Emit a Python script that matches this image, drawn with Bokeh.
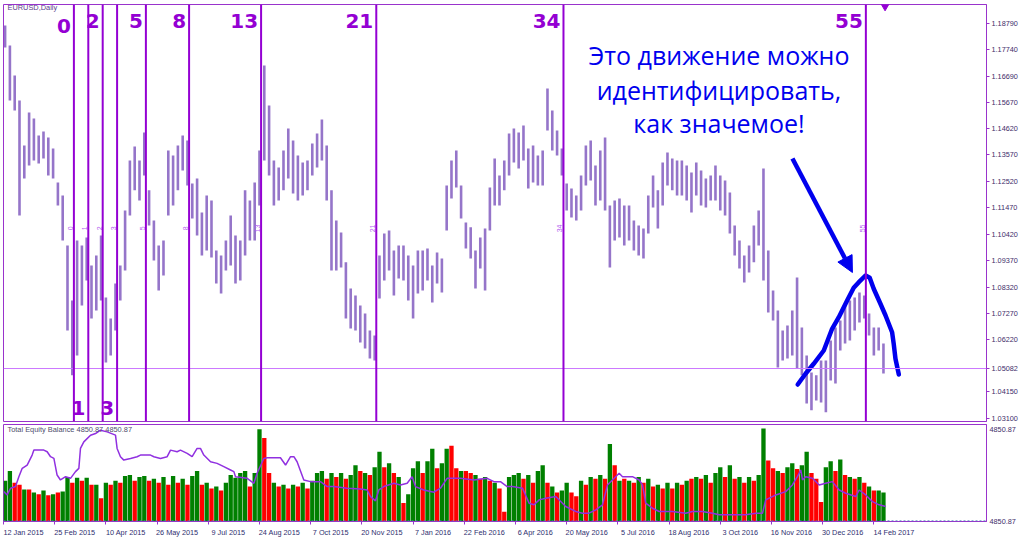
import math
from bokeh.plotting import figure
from bokeh.models import (Range1d, FixedTicker, Span, Label, ColumnDataSource, Arrow,
                          NormalHead, NumeralTickFormatter)
from bokeh.layouts import column
from bokeh.embed import file_html
from bokeh.resources import INLINE
from bokeh.core.properties import value

# ---------------- data ----------------
symbol_title = "EURUSD,Daily"
days_per_bar = 3  # each price bar below aggregates 3 trading days

price_high = [
    1.1871, 1.1792, 1.1672, 1.1573, 1.1394, 1.1525, 1.1502, 1.1434, 1.1450, 1.1426,
    1.1382, 1.1247, 1.1196, 1.0997, 1.0778, 1.1017, 1.0997, 1.1029, 1.0918, 1.0957,
    1.1037, 1.0790, 1.0707, 1.0846, 1.0918, 1.1136, 1.1335, 1.1390, 1.1335, 1.1446,
    1.1216, 1.1096, 1.0997, 1.1017, 1.1374, 1.1355, 1.1394, 1.1434, 1.1414, 1.1243,
    1.1263, 1.1128, 1.1196, 1.1176, 1.0977, 1.0957, 1.1017, 1.1116, 1.1037, 1.1017,
    1.1216, 1.1176, 1.1247, 1.1374, 1.1712, 1.1553, 1.1335, 1.1307, 1.1374, 1.1462,
    1.1414, 1.1355, 1.1327, 1.1335, 1.1402, 1.1442, 1.1498, 1.1394, 1.1216, 1.1096,
    1.1049, 1.0930, 1.0826, 1.0798, 1.0759, 1.0727, 1.0659, 1.0639, 1.0957, 1.1045,
    1.1057, 1.0977, 1.0997, 1.0997, 1.0957, 1.0918, 1.0977, 1.0977, 1.0985, 1.0918,
    1.0969, 1.0945, 1.1235, 1.1335, 1.1374, 1.1235, 1.1088, 1.1069, 1.0977, 1.1029,
    1.1065, 1.1227, 1.1343, 1.1275, 1.1335, 1.1442, 1.1462, 1.1446, 1.1474, 1.1382,
    1.1394, 1.1355, 1.1374, 1.1621, 1.1533, 1.1454, 1.1382, 1.1243, 1.1223, 1.1196,
    1.1275, 1.1394, 1.1414, 1.1315, 1.1374, 1.1426, 1.1156, 1.1176, 1.1184, 1.1156,
    1.1156, 1.1096, 1.1076, 1.1065, 1.1196, 1.1275, 1.1216, 1.1327, 1.1366, 1.1343,
    1.1335, 1.1335, 1.1315, 1.1287, 1.1327, 1.1295, 1.1263, 1.1275, 1.1315, 1.1275,
    1.1255, 1.1208, 1.1076, 1.1017, 1.0957, 1.0997, 1.1076, 1.1136, 1.1303, 1.0977,
    1.0818, 1.0739, 1.0659, 1.0679, 1.0739, 1.0870, 1.0671, 1.0560, 1.0492, 1.0481,
    1.0540, 1.0540, 1.0620, 1.0671, 1.0699, 1.0759, 1.0778, 1.0790, 1.0810, 1.0798,
    1.0727, 1.0671, 1.0671, 1.0608,
]
price_low = [
    1.1784, 1.1573, 1.1533, 1.1116, 1.1263, 1.1315, 1.1335, 1.1323, 1.1343, 1.1275,
    1.1263, 1.1156, 1.1017, 1.0659, 1.0481, 1.0560, 1.0759, 1.0858, 1.0707, 1.0739,
    1.0778, 1.0532, 1.0560, 1.0659, 1.0778, 1.0898, 1.1116, 1.1216, 1.1176, 1.1275,
    1.1076, 1.0937, 1.0818, 1.0878, 1.1116, 1.1156, 1.1216, 1.1295, 1.1235, 1.1104,
    1.1037, 1.0957, 1.0977, 1.0949, 1.0846, 1.0806, 1.0898, 1.0918, 1.0846, 1.0858,
    1.0957, 1.1017, 1.1017, 1.1156, 1.1335, 1.1275, 1.1156, 1.1176, 1.1216, 1.1263,
    1.1204, 1.1176, 1.1196, 1.1216, 1.1275, 1.1307, 1.1335, 1.1176, 1.0898, 1.0898,
    1.0910, 1.0707, 1.0667, 1.0659, 1.0612, 1.0588, 1.0548, 1.0540, 1.0786, 1.0858,
    1.0898, 1.0798, 1.0866, 1.0858, 1.0778, 1.0707, 1.0806, 1.0818, 1.0858, 1.0771,
    1.0846, 1.0810, 1.1057, 1.1184, 1.1227, 1.1104, 1.0985, 1.0945, 1.0826, 1.0906,
    1.0818, 1.1057, 1.1156, 1.1156, 1.1216, 1.1275, 1.1327, 1.1303, 1.1335, 1.1223,
    1.1247, 1.1235, 1.1235, 1.1454, 1.1374, 1.1355, 1.1275, 1.1136, 1.1108, 1.1096,
    1.1136, 1.1235, 1.1255, 1.1156, 1.1176, 1.1136, 1.0910, 1.1017, 1.1029, 1.0997,
    1.1017, 1.0977, 1.0957, 1.0945, 1.1045, 1.1148, 1.1065, 1.1156, 1.1235, 1.1216,
    1.1196, 1.1196, 1.1176, 1.1128, 1.1196, 1.1156, 1.1148, 1.1176, 1.1176, 1.1136,
    1.1116, 1.1045, 1.0957, 1.0906, 1.0850, 1.0890, 1.0930, 1.0997, 1.0858, 1.0731,
    1.0699, 1.0512, 1.0540, 1.0548, 1.0560, 1.0508, 1.0481, 1.0369, 1.0342, 1.0381,
    1.0373, 1.0334, 1.0461, 1.0449, 1.0580, 1.0608, 1.0620, 1.0659, 1.0691, 1.0707,
    1.0639, 1.0560, 1.0580, 1.0488,
]

hist_vals = [
    42, 52, 40, 38, 33, 33, 30, 28, 32, 27,
    28, 30, 31, 46, 40, 45, 42, 45, 38, 38,
    24, 40, 38, 42, 40, 47, 48, 42, 46, 47,
    42, 44, 40, 46, 38, 47, 40, 44, 38, 47,
    52, 38, 40, 34, 36, 32, 40, 48, 45, 50,
    52, 36, 50, 95, 86, 50, 40, 36, 38, 34,
    38, 36, 40, 34, 42, 50, 52, 44, 50, 46,
    50, 44, 48, 58, 52, 50, 48, 56, 72, 56,
    60, 50, 46, 19, 28, 55, 62, 50, 62, 75,
    55, 60, 75, 78, 55, 52, 52, 50, 48, 44,
    46, 42, 40, 34, 10, 46, 48, 50, 44, 48,
    40, 52, 58, 40, 36, 30, 32, 40, 30, 26,
    42, 38, 46, 44, 48, 44, 80, 58, 42, 44,
    42, 40, 46, 40, 44, 36, 38, 34, 40, 34,
    40, 38, 42, 44, 46, 44, 48, 40, 50, 56,
    46, 58, 44, 46, 40, 46, 42, 48, 96, 63,
    55, 52, 50, 56, 60, 54, 58, 72, 50, 44,
    20, 56, 62, 52, 64, 48, 46, 44, 46, 40,
    36, 32, 32, 30,
]
hist_up = [
    1, 1, 0, 0, 1, 0, 1, 0, 1, 0,
    1, 0, 1, 1, 0, 1, 0, 1, 0, 1,
    0, 1, 0, 1, 0, 1, 1, 0, 1, 1,
    0, 1, 0, 1, 0, 1, 0, 1, 0, 1,
    1, 0, 1, 0, 1, 0, 1, 1, 1, 1,
    1, 0, 1, 1, 0, 0, 1, 0, 1, 0,
    1, 0, 1, 0, 1, 1, 1, 0, 1, 0,
    1, 0, 1, 1, 0, 1, 0, 1, 1, 0,
    1, 0, 1, 0, 1, 1, 1, 0, 1, 1,
    0, 1, 1, 0, 0, 1, 0, 0, 1, 0,
    1, 0, 1, 0, 0, 1, 1, 1, 0, 1,
    0, 1, 1, 0, 1, 0, 1, 1, 0, 0,
    1, 0, 1, 0, 1, 0, 1, 0, 1, 0,
    1, 0, 1, 0, 1, 0, 1, 0, 1, 0,
    1, 0, 1, 0, 1, 0, 1, 0, 1, 1,
    0, 1, 0, 1, 0, 1, 0, 1, 1, 0,
    0, 1, 0, 1, 1, 0, 1, 1, 0, 0,
    0, 1, 1, 0, 1, 0, 1, 0, 1, 0,
    1, 0, 1, 1,
]

eq_bar = [
    0.2, 2.3, 4.4, 7.5, 9.6, 11.7, 14.8, 17.9, 19.0, 25.2,
    27.3, 29.4, 31.5, 33.5, 35.6, 38.8, 41.9, 45.0, 47.1, 48.1,
    50.2, 54.4, 57.5, 60.6, 64.8, 70.0, 71.0, 73.1, 75.2, 79.4,
    83.5, 85.6, 91.9, 94.0, 98.1, 102.3, 104.4, 108.5, 110.6, 114.8,
    117.9, 121.0, 123.1, 125.2, 129.4, 133.5, 137.7, 141.9, 144.0, 145.0,
    152.3, 156.5, 158.5, 162.7, 164.8, 173.1, 176.3, 179.4, 181.5, 183.5,
    187.7, 191.9, 198.1, 202.3, 206.5, 214.8, 223.1, 227.3, 229.4, 232.5,
    234.6, 237.7, 244.0, 248.1, 252.3, 255.4, 257.5, 262.7, 269.0, 273.1,
    277.3, 285.6, 294.0, 302.3, 306.5, 310.6, 314.8, 318.1, 324.4, 328.5,
    331.6, 334.8, 338.9, 345.2, 351.4, 357.7, 361.9, 366.0, 370.2, 374.4,
    377.5, 380.6, 384.8, 386.9, 393.1, 397.3, 399.4, 401.4, 405.6, 409.8,
    418.1, 426.4, 430.6, 436.9, 443.1, 447.3, 463.9, 470.2, 474.4, 476.4,
    482.7, 488.9, 493.1, 496.2, 498.3, 499.4, 501.4, 505.6, 509.8, 513.9,
    518.1, 522.3, 526.4, 532.7, 534.8, 538.9, 543.1, 547.3, 551.4,
]
eq_val = [
    30.8, 27.4, 34.3, 36.0, 46.2, 54.8, 58.2, 68.5, 73.6, 73.6,
    71.9, 66.8, 65.0, 47.9, 42.8, 46.2, 44.5, 51.4, 54.8, 75.3,
    82.1, 89.0, 90.7, 94.1, 92.4, 89.0, 75.3, 66.8, 63.3, 65.0,
    66.8, 68.5, 68.5, 66.8, 65.0, 66.8, 73.6, 71.9, 73.6, 70.2,
    66.8, 75.3, 75.3, 68.5, 61.6, 59.9, 56.5, 53.1, 51.4, 46.2,
    44.5, 39.4, 49.7, 65.0, 65.7, 65.7, 58.2, 66.8, 66.8, 61.6,
    42.8, 41.1, 41.1, 36.0, 36.0, 34.3, 33.6, 32.5, 25.7, 21.3,
    32.5, 36.0, 39.4, 37.7, 39.4, 46.2, 36.0, 32.5, 30.2, 34.3,
    44.5, 44.5, 42.8, 44.5, 41.1, 41.1, 36.0, 36.0, 34.3, 18.9,
    17.2, 22.3, 24.0, 25.7, 15.5, 10.3, 8.6, 8.6, 12.0, 17.2,
    37.7, 42.8, 49.7, 46.2, 46.2, 42.8, 37.7, 18.9, 13.7, 10.3,
    10.3, 8.6, 10.3, 10.3, 8.6, 6.9, 6.9, 8.6, 8.6, 22.3,
    27.4, 30.8, 37.7, 46.2, 53.1, 42.8, 46.2, 44.5, 37.7, 39.4,
    41.1, 32.5, 29.1, 25.7, 32.5, 27.4, 20.5, 17.2, 15.5,
]

date_ticks = [0, 32, 64, 96, 128, 160, 192, 224, 256, 288, 320, 352, 384, 416, 448, 480, 512, 544]
date_labels = ["12 Jan 2015", "25 Feb 2015", "10 Apr 2015", "26 May 2015", "9 Jul 2015",
               "24 Aug 2015", "7 Oct 2015", "20 Nov 2015", "7 Jan 2016", "22 Feb 2016",
               "6 Apr 2016", "20 May 2016", "5 Jul 2016", "18 Aug 2016", "3 Oct 2016",
               "16 Nov 2016", "30 Dec 2016", "14 Feb 2017"]
price_ticks = [1.18790, 1.17740, 1.16690, 1.15670, 1.14620, 1.13570, 1.12520, 1.11470,
               1.10420, 1.09370, 1.08320, 1.07270, 1.06220, 1.04150, 1.03100]
last_price = 1.05082

fib_levels = [0, 1, 2, 3, 5, 8, 13, 21, 34, 55]
fib_start_bar = 44
fib_unit_bars = 9
fib_label_row = ["top0", "bottom", "top", "bottom", "top", "top", "top", "top", "top", "top"]

note_lines = ["Это движение можно", "идентифицировать,", "как значемое!"]
draw_bar = [496.4, 501.3, 506.4, 512.7, 517.9, 522.1, 527.3, 531.4, 534.6, 538.8,
            541.4, 543.9, 548.1, 551.3, 555.4, 556.4, 557.5, 559.6]
draw_price = [1.04447, 1.04873, 1.05270, 1.05798, 1.06660, 1.07121, 1.07785, 1.08289,
              1.08512, 1.08778, 1.08687, 1.08250, 1.07654, 1.07189, 1.06525, 1.06064,
              1.05468, 1.04845]
arrow_start = (493.1, 1.13427)
arrow_end = (530.6, 1.08897)

equity_title = "Total Equity Balance 4850.87 4850.87"
equity_level_text = "4850.87"
equity_scale_ticks = [95, 0]

# ---------------- styling ----------------
VIOLET = "#9400D3"
FRAME = "#9933cc"
BAR = "#9575c9"
BLUE = "#0000ee"
GREEN = "#008000"
RED = "#ff0000"
AX_FONT = "Liberation Sans"

bar_x = [days_per_bar * k + 1 for k in range(len(price_high))]
X_END = 614.4
xr = Range1d(0, X_END)
Y0, Y1 = 1.02977, 1.19545

main = figure(width=1024, height=422, x_range=xr, y_range=Range1d(Y0, Y1),
              output_backend="svg", toolbar_location=None, x_axis_location=None,
              y_axis_location="right", min_border_left=3, min_border_right=38,
              min_border_top=4, min_border_bottom=1,
              background_fill_color="white", border_fill_color="white",
              outline_line_color=FRAME, outline_line_width=1)
main.grid.visible = False

ya = main.yaxis[0]
ya.ticker = FixedTicker(ticks=sorted(price_ticks + [last_price], reverse=True))
ya.formatter = NumeralTickFormatter(format="0.00000")
ya.axis_line_color = FRAME
ya.major_tick_line_color = FRAME
ya.major_tick_out = 3
ya.major_tick_in = 0
ya.minor_tick_line_color = None
ya.major_label_standoff = 2
ya.major_label_text_font = AX_FONT
ya.major_label_text_font_size = "7.3px"
ya.major_label_text_color = "#3f2d6a"

# price bars
main.segment(x0=bar_x, y0=price_low, x1=bar_x, y1=price_high, line_color=BAR, line_width=2.6)

# last price line
main.add_layout(Span(location=last_price, dimension="width", line_color="#cc77ff", line_width=1))

# fibonacci time zones
fib_x = [fib_start_bar + fib_unit_bars * f for f in fib_levels]
for fx in fib_x:
    main.add_layout(Span(location=fx, dimension="height", line_color=VIOLET, line_width=2))

row_y = {"top": 1.1889, "top0": 1.1869, "bottom": 1.0351}
fib_src = ColumnDataSource(dict(x=fib_x, y=[row_y[r] for r in fib_label_row],
                                t=[str(f) for f in fib_levels]))
main.text(x="x", y="y", text="t", source=fib_src, text_align="right", x_offset=-3,
          text_baseline="alphabetic", text_font=value("DejaVu Sans"), text_font_style="bold",
          text_font_size="20px", text_color=VIOLET)
small_src = ColumnDataSource(dict(x=fib_x, y=[1.1065] * len(fib_x), t=[str(f) for f in fib_levels]))
main.text(x="x", y="y", text="t", source=small_src, angle=math.pi / 2, text_align="center",
          text_baseline="bottom", x_offset=-1, text_font=value(AX_FONT),
          text_font_size="7px", text_color="#b45cf0")

# title
main.add_layout(Label(x=2.5, y=1.19228, text=symbol_title, text_font=AX_FONT,
                      text_font_size="7.4px", text_color="#5a3d8c"))

# blue note
for line, yb in zip(note_lines, [1.17558, 1.16148, 1.14817]):
    main.add_layout(Label(x=447.2, y=yb, text=line, text_align="center", text_baseline="alphabetic",
                          text_font="Open Sans", text_font_size="25px", text_color=BLUE))

main.add_layout(Arrow(end=NormalHead(size=16, fill_color=BLUE, line_color=BLUE, line_width=1),
                      x_start=arrow_start[0], y_start=arrow_start[1],
                      x_end=arrow_end[0], y_end=arrow_end[1],
                      line_color=BLUE, line_width=4.5))
main.line(draw_bar, draw_price, line_color=BLUE, line_width=4.5, line_join="round", line_cap="round")

# shift marker
main.scatter(x=[days_per_bar * len(price_high) - 1], y=[Y1], marker="inverted_triangle",
             size=11, fill_color=VIOLET, line_color=VIOLET)

# ---------------- lower panel ----------------
low = figure(width=1024, height=117, x_range=xr, y_range=Range1d(0, 100),
             output_backend="svg", toolbar_location=None, y_axis_location="right",
             min_border_left=3, min_border_right=38, min_border_top=2, min_border_bottom=17,
             background_fill_color="white", border_fill_color="white",
             outline_line_color=FRAME, outline_line_width=1)
low.grid.visible = False

hist_colors = [GREEN if u else RED for u in hist_up]
low.vbar(x=bar_x, top=hist_vals, bottom=0, width=2.7, fill_color=hist_colors, line_color=None)
low.line(eq_bar, eq_val, line_color="#9030e0", line_width=1.5)

label_shift = 12.5
major_pos = [t + label_shift for t in date_ticks]
xa = low.xaxis[0]
xa.ticker = FixedTicker(ticks=major_pos, minor_ticks=date_ticks)
xa.major_label_overrides = {m: s for m, s in zip(major_pos, date_labels)}
xa.major_tick_line_color = None
xa.major_tick_out = 0
xa.major_tick_in = 0
xa.minor_tick_line_color = FRAME
xa.minor_tick_out = 3
xa.minor_tick_in = 0
xa.axis_line_color = FRAME
xa.major_label_standoff = 3
xa.major_label_text_font = AX_FONT
xa.major_label_text_font_size = "7.3px"
xa.major_label_text_color = "#2f2f6f"

yb_ax = low.yaxis[0]
yb_ax.ticker = FixedTicker(ticks=equity_scale_ticks)
yb_ax.major_label_overrides = {t: equity_level_text for t in equity_scale_ticks}
yb_ax.major_tick_line_color = None
yb_ax.major_tick_out = 0
yb_ax.major_tick_in = 0
yb_ax.minor_tick_line_color = None
yb_ax.axis_line_color = FRAME
yb_ax.major_label_standoff = 3
yb_ax.major_label_text_font = AX_FONT
yb_ax.major_label_text_font_size = "7.3px"
yb_ax.major_label_text_color = "#3f2d6a"

low.add_layout(Span(location=0.6, dimension="width", line_color="#4682b4", line_dash="2 2", line_width=1))
low.add_layout(Label(x=2.5, y=90.5, text=equity_title, text_font=AX_FONT, text_font_size="7.4px",
                     text_color="#4d4d6d"))

layout = column(main, low, spacing=0)
open("out.html", "w").write(file_html(layout, INLINE))
